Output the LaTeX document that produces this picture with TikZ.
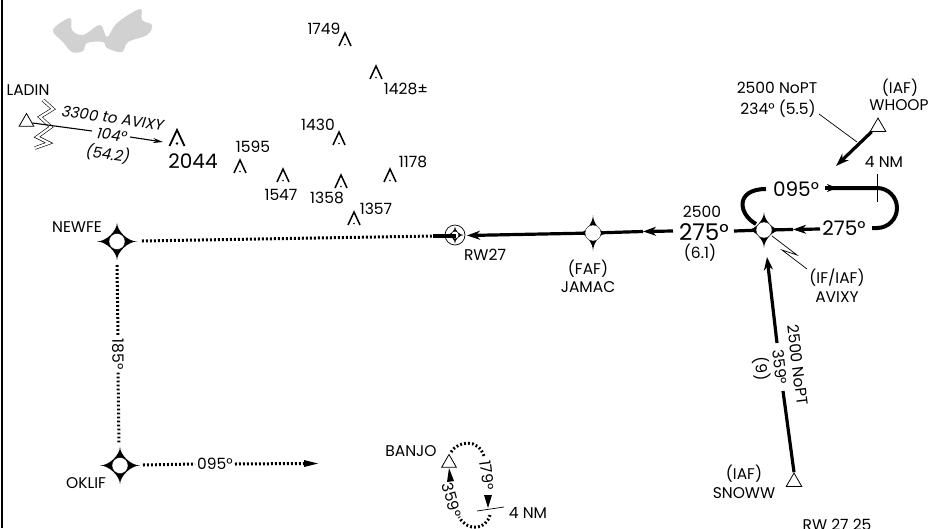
\documentclass[tikz,border=0pt]{standalone}
\usepackage{fontspec}
\setmainfont{Poppins}
\usetikzlibrary{arrows.meta,positioning,shapes.geometric}
\tikzset{
  txt/.style={inner sep=0pt,font=\fontsize{15.5}{15.5}\selectfont},
  bigtxt/.style={inner sep=0pt,font=\fontsize{23}{23}\selectfont},
  midtxt/.style={inner sep=0pt,font=\fontsize{20}{20}\selectfont},
  slanttxt/.style={inner sep=0pt,rotate=-8,font=\fontsize{15}{15}\itshape},
  fixcirc/.style={circle,fill=white,draw=black,line width=.3pt,minimum size=16pt,inner sep=0pt},
  iaf/.style={regular polygon,regular polygon sides=3,draw,fill=white,line width=.8pt,minimum size=18pt,inner sep=0pt},
  leg/.style={line width=3.2pt},
  legarrow/.style={line width=3.2pt,-{Stealth[length=13pt,width=9pt,inset=4pt]}},
  feeder/.style={line width=3pt,dash pattern=on 1.8pt off 2.2pt},
  thinline/.style={line width=.7pt},
  obstacle/.pic={
    \draw[line width=1.5pt,miter limit=10] (-6,13) -- (0,0) -- (6,13);
    \fill (0,11.5) circle (.9pt);
  },
  bigobstacle/.pic={
    \draw[line width=1.8pt] (-7.5,16) -- (0,0) -- (7.5,16);
    \fill (0,13.5) circle (1.3pt);
  },
}
% four pointed star with the white circle on top
\newcommand{\fixstar}[3]{%
  \begin{scope}[shift={(#1)}]
    \fill (0,-#3) .. controls (0,-.55*#3) and (.55*#2,0) .. (#2,0)
      .. controls (.55*#2,0) and (0,.55*#3) .. (0,#3)
      .. controls (0,.55*#3) and (-.55*#2,0) .. (-#2,0)
      .. controls (-.55*#2,0) and (0,-.55*#3) .. (0,-#3) -- cycle;
  \end{scope}
}
\newcommand{\fixpt}[4]{%
  \fixstar{#2}{#3}{#4}
  \node[fixcirc] (#1) at (#2) {};
}
\begin{document}
\begin{tikzpicture}[x=1pt,y=-1pt]
  \useasboundingbox (0,0) rectangle (932,528);
  \draw[line width=2.5pt] (2,0) -- (2,528);
  % lake
  \fill[black!18] plot[smooth cycle,tension=.6] coordinates {(53,30) (70,18) (72,30) (83,35) (100,25)
    (107,37) (117,23) (140,9) (142,20) (152,25) (147,35) (128,42) (122,52) (107,48) (103,42)
    (87,43) (83,51) (72,52) (63,42)};
  % LADIN
  \node[txt] at (28,90) {LADIN};
  \draw[double=white,double distance=2.2pt,line width=.6pt] (43,100) -- (53,109) -- (40,117)
    -- (51,127) -- (37,137) -- (49,143) -- (35,148);
  \node[iaf,minimum size=17pt] (ladin) at (26.5,122) {};
  \coordinate (ladinto) at (92,131);
  \draw[line width=1.1pt] (ladin.center) ++(6,1) -- (ladinto);
  \node[slanttxt] (ladinhdg) at (112,135) {104°};
  \coordinate (ladinfrom) at (130,137);
  \coordinate (ladinend) at (163,142);
  \draw[line width=1.1pt,-{Stealth[length=10pt,width=5pt]}] (ladinfrom) -- (ladinend);
  \node[slanttxt] at (113,118) {3300 to AVIXY};
  \node[slanttxt] at (108,154) {(54.2)};
  % obstacles
  \foreach \x/\y in {345/33,376/66,339/132,240/160,283/169,341/175,390/169,354/212}
    \pic at (\x,\y) {obstacle};
  \pic at (177,130) {bigobstacle};
  \node[txt] at (324,29) {1749};
  \node[txt] at (406,89) {1428±};
  \node[txt] at (318,125) {1430};
  \node[txt] at (253,147) {1595};
  \node[txt] at (281,195) {1547};
  \node[txt] at (327,198) {1358};
  \node[txt] at (413,162) {1178};
  \node[txt] at (376,209) {1357};
  \node[midtxt] at (193,161) {2044};
  % fixes
  \fixpt{newfe}{117,241.5}{20}{19}
  \fixpt{oklif}{120,465.5}{20}{19}
  \fixpt{jamac}{593,233}{14}{18}
  \fixpt{avixy}{764,230}{17}{18}
  \node[txt] at (77,227) {NEWFE};
  \node[txt] at (86,483) {OKLIF};
  \node[txt] at (588,269) {(FAF)};
  \node[txt] (jamaclbl) at (588,287) {JAMAC};
  \node[txt] at (837,278) {(IF/IAF)};
  \node[txt] at (837,297) {AVIXY};
  % RW27
  \node[circle,draw,fill=white,line width=.7pt,minimum size=20pt,inner sep=0pt] (rw) at (455,235) {};
  \fixstar{455,235}{8.5}{8.5}
  \node[circle,fill=white,minimum size=7pt,inner sep=0pt] at (rw) {};
  \node[txt] at (485,255) {RW27};
  \coordinate (rwbar) at (433,236);
  \draw[leg] (rwbar) -- (456,236);
  % feeder routes
  \coordinate (newfee) at (142,241);
  \coordinate (newfes) at (117,265);
  \coordinate (oklifn) at (119,444);
  \coordinate (oklife) at (143,465);
  \draw[feeder] (newfee) -- (rwbar);
  \node[txt,rotate=-90] (hdgs) at (118,354) {185°};
  \draw[feeder] (newfes) -- ([yshift=3pt]hdgs.west);
  \draw[feeder] ([yshift=-3pt]hdgs.east) -- (oklifn);
  \node[txt] (hdge) at (215,464) {095°};
  \draw[feeder] (oklife) -- ([xshift=-2pt]hdge.west);
  \coordinate (oklifto) at (304,463.5);
  \draw[feeder] ([xshift=2pt]hdge.east) -- (oklifto);
  \fill (oklifto) ++(0,-3.5) -- (318,463.5) -- (304,467) -- cycle;
  % final
  \coordinate (hdgleft) at (673,231);
  \coordinate (jamacarr) at (643,231.5);
  \coordinate (rwarr) at (467,235.5);
  \draw[legarrow] (hdgleft) -- (jamacarr);
  \draw[leg] (jamacarr) -- (jamac);
  \draw[legarrow] (jamac) -- (rwarr);
  \node[txt] at (702,212) {2500};
  \node[bigtxt] at (704,232) {275°};
  \node[txt] at (700,253) {(6.1)};
  \coordinate (hdgright) at (734,231);
  \draw[leg] (hdgright) -- (avixy);
  % hold at AVIXY
  \node[midtxt] (hdgout) at (796,189) {095°};
  \node[midtxt] (hdgin) at (844,228) {275°};
  \coordinate (holdr) at (877,188);
  \draw[line width=4pt] (766,189) .. controls (735,189) and (738,214) .. (756,224);
  \draw[line width=3.4pt,-{Stealth[length=10pt,width=8pt,inset=3pt]}] (825,188) -- (837,188);
  \draw[line width=4pt] (830,188) -- (holdr) arc[start angle=-90,end angle=90,radius=20] -- (872,228);
  \coordinate (inarr) at (793,229.5);
  \draw[legarrow] (820,229) -- (inarr);
  \draw[leg] (inarr) -- (avixy);
  \draw[thinline] (877,174) -- (877,202);
  \node[txt] at (884,162) {4 NM};
  \draw[thinline] (772,236) -- (797,255) -- (782,250) -- (807,269);
  % WHOOP
  \node[iaf] (whoop) at (878,127) {};
  \coordinate (whoopend) at (836,166);
  \draw[legarrow] (871.7,131.7) -- (whoopend);
  \node[txt] at (900,88) {(IAF)};
  \node[txt] at (899,105) {WHOOP};
  \node[txt] at (777,88) {2500 NoPT};
  \node[txt] at (778,109) {234° (5.5)};
  \coordinate (whoopnote) at (819,114);
  \draw[thinline] (whoopnote) -- (857,142);
  % SNOWW
  \node[iaf] (snoww) at (794,482) {};
  \coordinate (snowwbrk) at (783,391);
  \draw[leg] (snoww.north) -- (snowwbrk);
  \coordinate (snowwbrk2) at (777,343);
  \coordinate (snowwend) at (767,257);
  \draw[legarrow] (snowwbrk2) -- (snowwend);
  \node[txt,rotate=-83] at (798,365) {2500 NoPT};
  \node[txt,rotate=-83] at (780,367) {359°};
  \node[txt,rotate=-83] at (762,369) {(9)};
  \node[txt] at (744,474) {(IAF)};
  \node[txt] at (744,493) {SNOWW};
  \node[txt] at (837,525) {RW 27 25};
  % BANJO
  \node[txt] at (411,451) {BANJO};
  \node[iaf,minimum size=17pt] (banjo) at (449,463) {};
  \draw[feeder] (451,452) .. controls (458,441) and (478,438) .. (484,456);
  \draw[feeder] (490,515) .. controls (486,530) and (468,532) .. (459,517);
  \node[txt,rotate=-83] at (487,475) {179°};
  \node[txt,rotate=-75] at (452,500) {359°};
  \fill (484,495) -- (492,495) -- (488,508) -- cycle;
  \fill (447,482) -- (454,481) -- (449,468) -- cycle;
  \draw[thinline] (477,511) -- (504,507);
  \node[txt] at (528,513) {4 NM};
\end{tikzpicture}
\end{document}
